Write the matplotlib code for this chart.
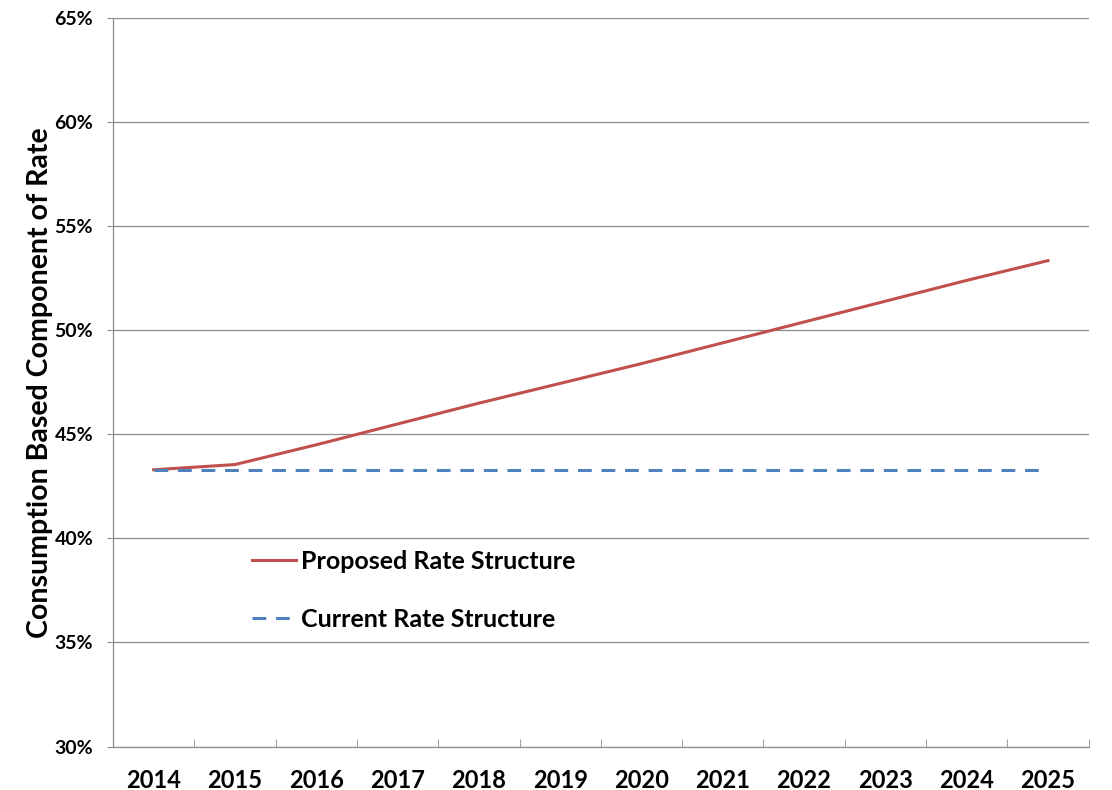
import numpy as np
import matplotlib.pyplot as plt
from matplotlib.ticker import FixedLocator, PercentFormatter

# Data
years = ['2014', '2015', '2016', '2017', '2018', '2019',
         '2020', '2021', '2022', '2023', '2024', '2025']
proposed = [43.3, 43.55, 44.5, 45.5, 46.5, 47.45, 48.4, 49.4, 50.4, 51.4, 52.4, 53.35]
current = [43.3] * 12

plt.rcParams['font.family'] = ['Lato', 'DejaVu Sans']
plt.rcParams['font.weight'] = 'bold'

fig = plt.figure(figsize=(11.12, 7.9), dpi=100)
ax = fig.add_axes([0.1016, 0.055, 0.8774, 0.922])

x = np.arange(len(years))
ax.plot(x, proposed, color='#C0504D', lw=2.2, label='Proposed Rate Structure')
ax.plot(x, current, color='#4F81BD', lw=2.2, dashes=(4.5, 3.2), label='Current Rate Structure')

ax.set_xlim(-0.5, len(years) - 0.5)
ax.set_ylim(30, 65)
ax.set_yticks(np.arange(30, 66, 5))
ax.yaxis.set_major_formatter(PercentFormatter(decimals=0))
ax.grid(axis='y', color='#8c8c8c', lw=0.9)
ax.set_axisbelow(True)

ax.set_xticks(x)
ax.set_xticklabels(years, fontsize=17, fontweight='bold')
ax.xaxis.set_minor_locator(FixedLocator(np.arange(0.5, len(years), 1)))
ax.tick_params(axis='x', which='major', length=0, pad=16)
ax.tick_params(axis='x', which='minor', direction='in', length=6, color='#8c8c8c')
ax.tick_params(axis='y', length=4.3, color='#8c8c8c', pad=10, labelsize=14)
for lbl in ax.get_yticklabels():
    lbl.set_fontweight('bold')

for side in ['top', 'right']:
    ax.spines[side].set_visible(False)
for side in ['left', 'bottom']:
    ax.spines[side].set_color('#8c8c8c')
    ax.spines[side].set_linewidth(0.9)

ax.set_ylabel('Consumption Based Component of Rate', fontsize=20.5, fontweight='bold', labelpad=1)

leg = ax.legend(loc='center left', bbox_to_anchor=(0.142, 0.214), frameon=False,
                fontsize=18, handlelength=1.76, handletextpad=0.2, labelspacing=1.4,
                borderpad=0, borderaxespad=0)

fig.savefig('out.png', dpi=100)
